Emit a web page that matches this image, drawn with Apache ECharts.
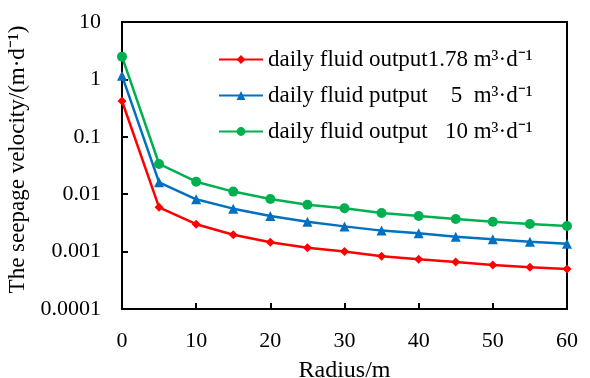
<!DOCTYPE html>
<html>
<head>
<meta charset="utf-8">
<script src="https://cdn.jsdelivr.net/npm/echarts@6/dist/echarts.min.js"></script>
<style>
  html, body { margin: 0; padding: 0; background: #fff; }
  #chart { width: 590px; height: 378px; }
</style>
</head>
<body>
<div id="chart"></div>
<script>
// radius (m)
const radius = [0, 5, 10, 15, 20, 25, 30, 35, 40, 45, 50, 55, 60];

// seepage velocity (m/d)
const q178 = [0.42, 0.0059, 0.0030, 0.00197, 0.00145, 0.00117, 0.00100, 0.00083, 0.000735, 0.00066, 0.000585, 0.000532, 0.000498];
const q5 = [1.16, 0.0161, 0.00815, 0.0056, 0.00417, 0.00332, 0.00275, 0.00232, 0.00208, 0.00182, 0.00164, 0.00149, 0.00137];
const q10 = [2.49, 0.0336, 0.0165, 0.0111, 0.00824, 0.00656, 0.00568, 0.0047, 0.00417, 0.0037, 0.00332, 0.00303, 0.00279];

const seriesNames = [
  "daily fluid output1.78 m³·d⁻¹",
  "daily fluid putput    5  m³·d⁻¹",
  "daily fluid output   10 m³·d⁻¹",
];

const font = "'Liberation Serif', 'Times New Roman', serif";

const chart = echarts.init(document.getElementById("chart"));

function pairs(ys) {
  return radius.map((x, i) => [x, ys[i]]);
}

function makeSeries(name, ys, color, symbol, size) {
  return {
    name: name,
    type: "line",
    data: pairs(ys),
    symbol: symbol,
    symbolSize: size,
    lineStyle: { color: color, width: 2.5 },
    itemStyle: { color: color },
    z: 3,
  };
}

chart.setOption({
  animation: false,
  textStyle: { fontFamily: font },
  grid: {
    left: 122,
    right: 23,
    top: 22,
    bottom: 69,
    outerBoundsMode: "none",
    containLabel: false,
    show: true,
    borderColor: "#000",
    borderWidth: 2,
  },
  legend: {
    orient: "vertical",
    left: 213,
    top: 43,
    itemWidth: 44,
    itemHeight: 11,
    itemGap: 13,
    textStyle: { fontFamily: font, fontSize: 23, color: "#000" },
  },
  xAxis: {
    type: "value",
    min: 0,
    max: 60,
    interval: 10,
    name: "Radius/m",
    nameLocation: "middle",
    nameGap: 50,
    nameTextStyle: { fontFamily: font, fontSize: 24, color: "#000" },
    axisLine: { lineStyle: { color: "#000", width: 2 } },
    axisTick: { inside: true, length: 6, lineStyle: { color: "#000", width: 2 } },
    axisLabel: { fontFamily: font, fontSize: 22, color: "#000", margin: 21 },
    splitLine: { show: false },
  },
  yAxis: {
    type: "log",
    logBase: 10,
    min: 0.0001,
    max: 10,
    name: "The seepage velocity/(m·d⁻¹)",
    nameLocation: "middle",
    nameGap: 90,
    nameRotate: 90,
    nameTextStyle: { fontFamily: font, fontSize: 23, color: "#000", padding: [0, 0, 0, 12] },
    axisLine: { lineStyle: { color: "#000", width: 2 } },
    axisTick: { inside: true, length: 6, lineStyle: { color: "#000", width: 2 } },
    axisLabel: {
      fontFamily: font,
      fontSize: 22,
      color: "#000",
      margin: 21,
      formatter: function (v) {
        const e = Math.round(Math.log10(v));
        return e < 0 ? Math.pow(10, e).toFixed(-e) : String(Math.pow(10, e));
      },
    },
    splitLine: { show: false },
  },
  series: [
    makeSeries(seriesNames[0], q178, "#ff0000", "diamond", 9),
    makeSeries(seriesNames[1], q5, "#0070c0", "triangle", 10),
    makeSeries(seriesNames[2], q10, "#00b050", "circle", 10),
  ],
});
</script>
</body>
</html>
